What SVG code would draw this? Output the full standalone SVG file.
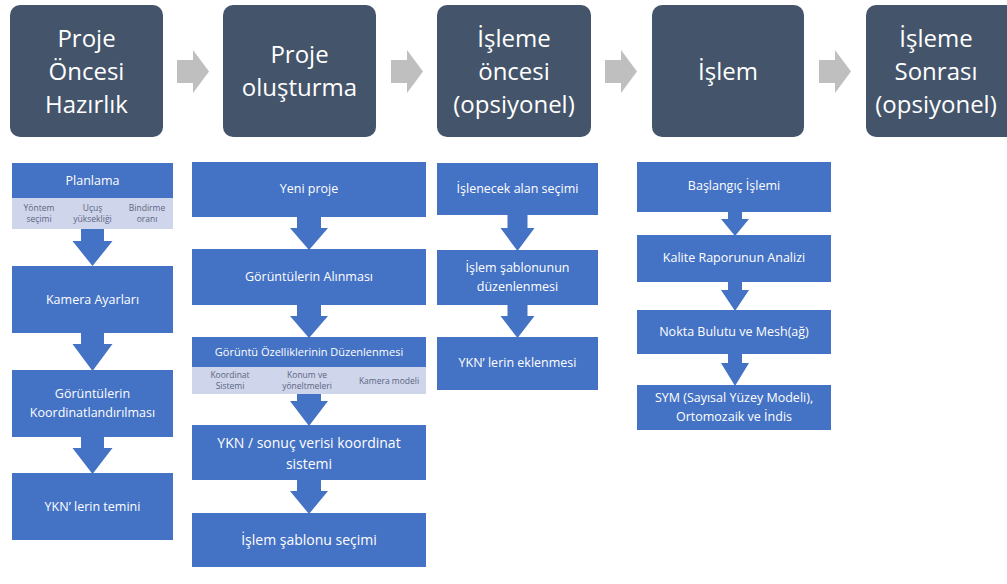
<svg xmlns="http://www.w3.org/2000/svg" width="1007" height="584" viewBox="0 0 1007 584">
<style>
.hdr{fill:#44546A}
.hdrt{font-family:"Open Sans","Noto Sans",sans-serif;font-size:24px;fill:#ffffff;text-anchor:middle}
.box{fill:#4472C4}
.bt{font-family:"Open Sans","Noto Sans",sans-serif;font-size:12.5px;fill:#ffffff;text-anchor:middle}
.bt2{font-family:"Open Sans","Noto Sans",sans-serif;font-size:14px;fill:#ffffff;text-anchor:middle}
.sub{fill:#CFD5EA}
.st{font-family:"Open Sans","Noto Sans",sans-serif;font-size:8.5px;fill:#5A6684;text-anchor:middle}
.garr{fill:#BFBFBF}
.barr{fill:#4472C4}
</style>
<rect width="1007" height="584" fill="#ffffff"/>

<g id="connectors">
  <polygon class="garr" points="177,60 193,60 193,50 209,71.5 193,93 193,83 177,83"/>
  <polygon class="garr" points="391,60 407,60 407,50 423,71.5 407,93 407,83 391,83"/>
  <polygon class="garr" points="605,60 621,60 621,50 637,71.5 621,93 621,83 605,83"/>
  <polygon class="garr" points="819,60 835,60 835,50 851,71.5 835,93 835,83 819,83"/>

  <polygon class="barr" points="81,229 104,229 104,241 112.5,241 92.5,266 72.5,241 81,241"/>
  <polygon class="barr" points="81,332 104,332 104,344 112.5,344 92.5,371 72.5,344 81,344"/>
  <polygon class="barr" points="81,436 104,436 104,448 112.5,448 92.5,474 72.5,448 81,448"/>

  <polygon class="barr" points="297,216 321,216 321,228 328,228 309,250 290,228 297,228"/>
  <polygon class="barr" points="297,304 321,304 321,316 328,316 309,338 290,316 297,316"/>
  <polygon class="barr" points="297,393 321,393 321,401 328,401 309,426 290,401 297,401"/>
  <polygon class="barr" points="297,479 321,479 321,491 328,491 309,514 290,491 297,491"/>

  <polygon class="barr" points="507.5,214 527.5,214 527.5,228 534.5,228 517.5,251 500.5,228 507.5,228"/>
  <polygon class="barr" points="507.5,304 527.5,304 527.5,316 534.5,316 517.5,338 500.5,316 507.5,316"/>

  <polygon class="barr" points="728,211 742,211 742,219 749,219 735,236 721,219 728,219"/>
  <polygon class="barr" points="728,281 742,281 742,290 749,290 735,311 721,290 728,290"/>
  <polygon class="barr" points="728,353 742,353 742,363 749,363 735,386 721,363 728,363"/>
</g>

<g id="hdr1"><rect class="hdr" x="10" y="5" width="153" height="132" rx="10"/>
  <text class="hdrt" x="86.5" y="47">Proje</text><text class="hdrt" x="86.5" y="80">Öncesi</text><text class="hdrt" x="86.5" y="113">Hazırlık</text></g>
<g id="hdr2"><rect class="hdr" x="223" y="5" width="153" height="132" rx="10"/>
  <text class="hdrt" x="299.5" y="63">Proje</text><text class="hdrt" x="299.5" y="96">oluşturma</text></g>
<g id="hdr3"><rect class="hdr" x="437" y="5" width="154" height="132" rx="10"/>
  <text class="hdrt" x="514" y="47">İşleme</text><text class="hdrt" x="514" y="80">öncesi</text><text class="hdrt" x="514" y="113">(opsiyonel)</text></g>
<g id="hdr4"><rect class="hdr" x="652" y="5" width="152" height="132" rx="10"/>
  <text class="hdrt" x="728" y="80">İşlem</text></g>
<g id="hdr5"><rect class="hdr" x="866" y="5" width="152" height="132" rx="10"/>
  <text class="hdrt" x="936" y="47">İşleme</text><text class="hdrt" x="936" y="80">Sonrası</text><text class="hdrt" x="936" y="113">(opsiyonel)</text></g>

<g id="planlama"><rect class="box" x="12" y="163" width="161" height="35"/>
  <text class="bt" x="92.5" y="185">Planlama</text>
  <rect class="sub" x="12" y="198" width="161" height="31"/>
  <text class="st" x="39" y="211">Yöntem</text><text class="st" x="39" y="222">seçimi</text>
  <text class="st" x="92.5" y="211">Uçuş</text><text class="st" x="92.5" y="222">yüksekliği</text>
  <text class="st" x="147" y="211">Bindirme</text><text class="st" x="147" y="222">oranı</text></g>
<g id="kamera"><rect class="box" x="12" y="266" width="161" height="67"/>
  <text class="bt" x="92.5" y="304">Kamera Ayarları</text></g>
<g id="koordinat"><rect class="box" x="12" y="370" width="161" height="67"/>
  <text class="bt" x="92.5" y="398">Görüntülerin</text><text class="bt" x="92.5" y="417">Koordinatlandırılması</text></g>
<g id="ykn-temin"><rect class="box" x="12" y="473" width="161" height="67"/>
  <text class="bt" x="92.5" y="511">YKN’ lerin temini</text></g>

<g id="yeni-proje"><rect class="box" x="192" y="162" width="234" height="55"/>
  <text class="bt" x="309" y="193">Yeni proje</text></g>
<g id="alinmasi"><rect class="box" x="192" y="249" width="234" height="56"/>
  <text class="bt" x="309" y="281">Görüntülerin Alınması</text></g>
<g id="ozellikler"><rect class="box" x="192" y="337" width="234" height="30"/>
  <text class="bt" x="309" y="356" style="font-size:11px">Görüntü Özelliklerinin Düzenlenmesi</text>
  <rect class="sub" x="192" y="367" width="234" height="27"/>
  <text class="st" x="230" y="378">Koordinat</text><text class="st" x="230" y="389">Sistemi</text>
  <text class="st" x="307" y="378">Konum ve</text><text class="st" x="307" y="389">yöneltmeleri</text>
  <text class="st" x="389" y="384">Kamera modeli</text></g>
<g id="ykn-sonuc"><rect class="box" x="192" y="425" width="234" height="55"/>
  <text class="bt2" x="309" y="448">YKN / sonuç verisi koordinat</text><text class="bt2" x="309" y="469">sistemi</text></g>
<g id="sablon-secimi"><rect class="box" x="192" y="513" width="234" height="54"/>
  <text class="bt2" x="309" y="545">İşlem şablonu seçimi</text></g>

<g id="alan-secimi"><rect class="box" x="437" y="163" width="161" height="52"/>
  <text class="bt" x="517.5" y="193">İşlenecek alan seçimi</text></g>
<g id="sablon-duzen"><rect class="box" x="437" y="250" width="161" height="55"/>
  <text class="bt" x="517.5" y="272">İşlem şablonunun</text><text class="bt" x="517.5" y="291">düzenlenmesi</text></g>
<g id="ykn-ekle"><rect class="box" x="437" y="337" width="161" height="53"/>
  <text class="bt" x="517.5" y="367">YKN’ lerin eklenmesi</text></g>

<g id="baslangic"><rect class="box" x="637" y="162" width="194" height="50"/>
  <text class="bt" x="734" y="190">Başlangıç İşlemi</text></g>
<g id="kalite"><rect class="box" x="637" y="235" width="194" height="47"/>
  <text class="bt" x="734" y="262">Kalite Raporunun Analizi</text></g>
<g id="nokta"><rect class="box" x="637" y="310" width="194" height="44"/>
  <text class="bt" x="734" y="336">Nokta Bulutu ve Mesh(ağ)</text></g>
<g id="sym"><rect class="box" x="637" y="385" width="194" height="45"/>
  <text class="bt" x="734" y="402">SYM (Sayısal Yüzey Modeli),</text><text class="bt" x="734" y="421">Ortomozaik ve İndis</text></g>
</svg>
